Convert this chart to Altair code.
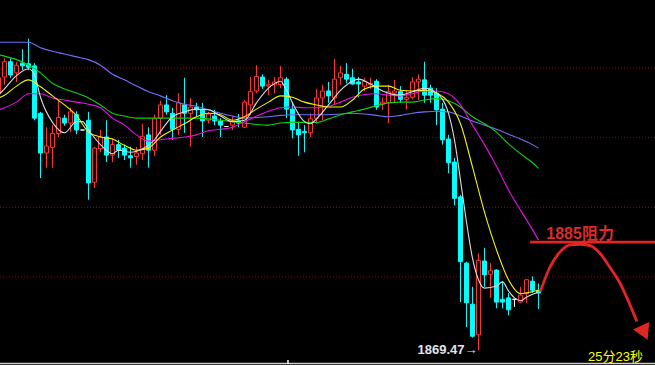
import altair as alt
import pandas as pd

# ---------------- candle data (bar index, OHLC) ----------------
bar_idx = list(range(-1, 90))
open_p = [1906.4, 1908.7, 1910.9, 1909.3, 1910.7, 1910.6, 1910.3, 1903.5, 1897.8, 1898.6,
          1900.6, 1902.8, 1902.1, 1903.3, 1901.1, 1902.5, 1893.6, 1898.4, 1900.1, 1897.5,
          1899.0, 1898.5, 1897.4, 1897.3, 1897.7, 1900.4, 1898.2, 1902.8, 1904.7, 1903.5,
          1901.2, 1904.7, 1903.5, 1904.4, 1904.0, 1902.5, 1903.1, 1902.4, 1901.6, 1901.8,
          1902.4, 1901.5, 1904.7, 1906.7, 1908.7, 1907.4, 1907.6, 1907.6, 1908.4, 1904.1,
          1901.2, 1900.9, 1900.7, 1902.8, 1905.7, 1906.7, 1905.7, 1908.6, 1909.1, 1908.6,
          1908.0, 1907.4, 1907.6, 1908.1, 1904.8, 1905.0, 1906.4, 1906.6, 1905.5, 1905.8,
          1908.0, 1908.3, 1907.1, 1906.4, 1904.1, 1899.8, 1896.5, 1891.5, 1882.0, 1876.1,
          1871.7, 1882.3, 1880.4, 1881.0, 1876.8, 1877.0, 1876.8, 1876.4, 1877.6, 1879.4,
          1878.1]
high_p = [1909.0, 1911.4, 1911.4, 1910.9, 1912.7, 1914.2, 1910.7, 1903.7, 1901.5, 1901.8,
          1905.3, 1903.3, 1904.3, 1903.8, 1901.1, 1903.7, 1898.7, 1901.1, 1902.5, 1899.9,
          1899.7, 1899.0, 1898.7, 1898.7, 1902.0, 1901.5, 1903.3, 1905.3, 1906.1, 1904.3,
          1906.4, 1908.6, 1905.7, 1905.0, 1905.0, 1903.7, 1904.0, 1902.8, 1901.6, 1903.1,
          1903.4, 1905.4, 1908.7, 1910.4, 1909.1, 1908.3, 1908.7, 1910.3, 1908.7, 1905.1,
          1902.3, 1901.8, 1903.5, 1907.0, 1907.6, 1908.0, 1911.3, 1910.3, 1910.7, 1909.9,
          1908.7, 1908.6, 1908.6, 1908.4, 1905.8, 1907.6, 1908.3, 1907.4, 1906.8, 1908.7,
          1909.1, 1910.9, 1907.6, 1907.1, 1905.0, 1900.4, 1897.1, 1891.8, 1882.2, 1878.6,
          1883.4, 1884.2, 1882.0, 1881.1, 1879.4, 1877.7, 1876.8, 1878.6, 1879.7, 1880.1,
          1879.1]
low_p = [1905.7, 1907.6, 1908.6, 1908.0, 1909.7, 1909.7, 1902.5, 1894.2, 1895.7, 1895.7,
         1900.1, 1901.7, 1900.8, 1900.5, 1901.1, 1891.1, 1892.8, 1897.9, 1896.5, 1896.5,
         1897.1, 1896.8, 1895.7, 1896.1, 1896.8, 1895.7, 1897.4, 1900.4, 1903.3, 1899.7,
         1900.4, 1900.7, 1898.7, 1903.1, 1900.1, 1902.0, 1901.8, 1900.1, 1901.6, 1901.1,
         1901.5, 1901.4, 1903.3, 1906.4, 1907.0, 1906.1, 1906.4, 1907.1, 1902.8, 1899.9,
         1897.4, 1897.9, 1900.1, 1902.0, 1902.5, 1905.0, 1904.7, 1907.6, 1907.8, 1907.6,
         1905.8, 1906.7, 1907.0, 1904.0, 1904.0, 1902.1, 1905.0, 1905.0, 1904.1, 1905.5,
         1905.4, 1905.0, 1905.0, 1901.8, 1899.0, 1894.9, 1890.3, 1876.4, 1872.8, 1871.3,
         1869.47, 1878.6, 1877.0, 1875.5, 1875.5, 1874.5, 1875.7, 1876.3, 1876.3, 1877.7,
         1875.4]
close_p = [1908.6, 1910.9, 1909.0, 1910.4, 1910.3, 1910.1, 1902.8, 1897.8, 1898.8, 1900.6,
           1902.9, 1902.1, 1903.7, 1901.1, 1901.1, 1893.5, 1898.5, 1900.1, 1897.5, 1899.0,
           1898.2, 1897.5, 1897.1, 1897.8, 1900.2, 1898.2, 1902.7, 1904.7, 1903.7, 1901.2,
           1905.0, 1903.5, 1904.4, 1904.0, 1902.4, 1903.4, 1902.4, 1901.8, 1901.6, 1902.3,
           1902.1, 1905.1, 1906.6, 1908.8, 1907.4, 1907.6, 1908.0, 1908.6, 1904.1, 1901.1,
           1900.4, 1900.7, 1902.7, 1905.7, 1906.7, 1906.0, 1908.4, 1909.3, 1908.4, 1907.7,
           1907.7, 1908.1, 1907.8, 1904.4, 1905.1, 1906.6, 1906.7, 1905.5, 1905.8, 1908.0,
           1908.4, 1906.1, 1906.1, 1904.0, 1899.7, 1896.4, 1891.3, 1882.2, 1876.3, 1871.5,
           1882.4, 1880.3, 1880.9, 1876.4, 1876.4, 1875.3, 1876.8, 1877.4, 1879.6, 1878.1,
           1877.7]

# ---------------- moving averages ----------------
ma_idx = [-1, 0, 2, 4, 6, 8, 10, 12, 14, 16, 18, 20, 22, 24, 26, 28, 30, 32, 34, 36, 38,
          40, 42, 44, 46, 48, 50, 52, 54, 56, 58, 60, 62, 64, 66, 68, 70, 72, 74, 76, 78,
          80, 82, 84, 86, 88, 89]
ma60 = [1913.7, 1913.7, 1913.7, 1913.7, 1912.9, 1912.4, 1912.0, 1911.6, 1911.2, 1910.4,
        1909.1, 1908.3, 1907.4, 1906.6, 1906.0, 1905.3, 1904.8, 1904.5, 1904.0, 1903.5,
        1903.1, 1902.8, 1902.9, 1903.0, 1903.2, 1903.3, 1903.3, 1903.3, 1903.3, 1903.4,
        1903.5, 1903.4, 1903.2, 1903.0, 1903.2, 1903.5, 1903.7, 1903.8, 1903.7, 1903.1,
        1902.4, 1901.8, 1901.2, 1900.5, 1899.8, 1899.0, 1898.5]
ma30 = [1911.9, 1911.7, 1911.2, 1910.4, 1909.3, 1907.8, 1907.0, 1906.4, 1905.7, 1904.7,
        1903.5, 1903.1, 1902.8, 1902.8, 1902.8, 1902.8, 1902.8, 1902.8, 1902.7, 1902.5,
        1902.3, 1902.1, 1901.9, 1901.8, 1902.1, 1902.2, 1902.2, 1902.2, 1902.7, 1903.3,
        1903.7, 1904.1, 1904.6, 1905.0, 1905.1, 1905.1, 1905.4, 1905.6, 1905.3, 1904.4,
        1903.0, 1902.0, 1900.8, 1899.1, 1897.7, 1896.4, 1895.6]
ma20 = [1904.0, 1904.3, 1905.1, 1906.3, 1906.3, 1905.7, 1905.4, 1905.1, 1904.8, 1904.3,
        1902.8, 1901.8, 1900.4, 1899.5, 1899.7, 1899.9, 1900.1, 1900.4, 1901.0, 1901.2,
        1901.5, 1902.3, 1903.1, 1903.8, 1904.3, 1904.4, 1904.3, 1904.3, 1904.5, 1905.1,
        1905.8, 1906.2, 1906.3, 1906.1, 1906.0, 1906.3, 1906.7, 1906.7, 1906.3, 1904.7,
        1901.8, 1899.0, 1895.9, 1892.5, 1889.6, 1886.8, 1885.3]
ma10 = [1905.7, 1906.1, 1907.4, 1908.3, 1907.3, 1906.0, 1904.7, 1903.2, 1900.8, 1900.1,
        1899.8, 1898.9, 1898.2, 1898.5, 1900.1, 1901.1, 1902.0, 1903.0, 1903.5, 1903.3,
        1902.5, 1903.0, 1904.1, 1905.1, 1906.0, 1905.8, 1905.1, 1904.7, 1904.4, 1904.4,
        1905.4, 1907.0, 1907.4, 1907.4, 1906.8, 1906.7, 1906.8, 1906.4, 1905.1, 1902.0,
        1895.8, 1889.3, 1883.9, 1879.6, 1877.6, 1877.9, 1878.1]
ma5_idx = [-1, 0, 2, 4, 5, 6, 8, 10, 12, 13, 14, 16, 18, 19, 21, 23, 25, 26, 28, 30, 32,
           34, 36, 38, 40, 42, 44, 46, 47, 48, 50, 51, 52, 54, 56, 58, 59, 61, 63, 66, 68,
           70, 72, 74, 75, 76, 77, 78, 79, 80, 82, 83, 84, 85, 86, 87, 89]
ma5 = [1906.1, 1907.0, 1908.9, 1909.9, 1909.0, 1905.8, 1902.2, 1900.7, 1902.3, 1902.3,
       1901.1, 1899.0, 1897.7, 1898.2, 1897.9, 1898.4, 1899.7, 1900.9, 1903.0, 1903.7,
       1904.1, 1904.0, 1903.1, 1902.3, 1902.5, 1905.0, 1907.1, 1908.1, 1906.8, 1905.0,
       1902.3, 1902.0, 1902.7, 1904.7, 1906.8, 1908.1, 1908.4, 1907.7, 1906.7, 1906.1,
       1906.6, 1907.1, 1906.4, 1903.5, 1899.7, 1893.9, 1887.9, 1882.7, 1879.6, 1878.4,
       1878.7, 1879.3, 1878.0, 1877.0, 1876.6, 1877.1, 1877.8]

# ---------------- annotations ----------------
grid_levels = [1880, 1890, 1900, 1910]
resistance_price = 1885
resistance_from = 87.6
resistance_to = 108.5
resistance_label = "1885阻力"
low_label = "1869.47→"
low_bar = 79
low_price = 1869.47
timer_label = "25分23秒"
timer_pos = [106.4, 1868.45]
arc_i = [89.3, 90.9, 92.6, 94.25, 95.9, 97.6, 99.25, 100.9, 102.6, 104.25, 105.4]
arc_p = [1877.9, 1881.4, 1883.6, 1884.6, 1884.7, 1884.5, 1883.4, 1881.4, 1879.1, 1876.0, 1873.6]
arrow_head = [106.65, 1872.0]
axis_tick_bar = 47.25

RED = "#e52424"
XS = alt.Scale(domain=[-0.75, 108.42], nice=False, zero=False)
YS = alt.Scale(domain=[1867.37, 1919.76], nice=False, zero=False)


def X(f):
    return alt.X(f, type="quantitative", scale=XS, axis=None)


def Y(f):
    return alt.Y(f, type="quantitative", scale=YS, axis=None)


candles = pd.DataFrame({"i": bar_idx, "open": open_p, "high": high_p,
                        "low": low_p, "close": close_p})

base = alt.Chart(candles).transform_calculate(
    dir="datum.close > datum.open ? 'up' : (datum.close < datum.open ? 'down' : 'flat')",
    xl="datum.i - 0.3333",
    xr="datum.i + 0.3333",
)

dirs = ["up", "down", "flat"]
stroke_scale = alt.Scale(domain=dirs, range=["#ff3535", "#00ffff", "#ffffff"])
fill_scale = alt.Scale(domain=dirs, range=["#000000", "#00ffff", "#000000"])

grid = alt.Chart(pd.DataFrame({"p": grid_levels})).mark_rule(
    color="#a00000", strokeDash=[1, 2], strokeWidth=1
).encode(y=Y("p"))

wicks = base.mark_rule(strokeWidth=1, clip=True).encode(
    x=X("i"), y=Y("low"), y2="high",
    color=alt.Color("dir:N", scale=stroke_scale, legend=None),
)

bodies = base.mark_rect(strokeWidth=1, clip=True).encode(
    x=X("xl"), x2="xr", y=Y("open"), y2="close",
    fill=alt.Fill("dir:N", scale=fill_scale, legend=None),
    stroke=alt.Stroke("dir:N", scale=stroke_scale, legend=None),
)


def ma_line(idx, vals, color):
    df = pd.DataFrame({"i": idx, "v": vals})
    return alt.Chart(df).mark_line(color=color, strokeWidth=1.1, interpolate="monotone",
                                   clip=True).encode(x=X("i"), y=Y("v"))


lines = [
    ma_line(ma_idx, ma60, "#7070ff"),
    ma_line(ma_idx, ma30, "#10d010"),
    ma_line(ma_idx, ma20, "#e810e8"),
    ma_line(ma_idx, ma10, "#f5f500"),
    ma_line(ma5_idx, ma5, "#dcdcdc"),
]

res_line = alt.Chart(pd.DataFrame({"a": [resistance_from], "b": [resistance_to],
                                   "p": [resistance_price]})).mark_rule(
    color=RED, strokeWidth=2.8).encode(x=X("a"), x2="b", y=Y("p"))

res_text = alt.Chart(pd.DataFrame({"i": [90.3], "p": [resistance_price],
                                   "t": [resistance_label]})).mark_text(
    align="left", baseline="alphabetic", dy=-3, fontSize=16, fontWeight="bold",
    font="Liberation Sans, Noto Sans CJK SC", color="#dc2a2a"
).encode(x=X("i"), y=Y("p"), text="t:N")

arc = alt.Chart(pd.DataFrame({"i": arc_i, "p": arc_p})).mark_line(
    color=RED, strokeWidth=2.8, interpolate="monotone").encode(x=X("i"), y=Y("p"))

head = alt.Chart(pd.DataFrame({"i": [arrow_head[0]], "p": [arrow_head[1]]})).mark_point(
    shape="triangle-down", filled=True, size=320, angle=335, color=RED, opacity=1
).encode(x=X("i"), y=Y("p"))

low_text = alt.Chart(pd.DataFrame({"i": [low_bar], "p": [low_price],
                                   "t": [low_label]})).mark_text(
    align="right", baseline="middle", dx=-1, fontSize=13, fontWeight="bold",
    font="Liberation Sans", color="#e2e2ea"
).encode(x=X("i"), y=Y("p"), text="t:N")

timer_text = alt.Chart(pd.DataFrame({"i": [timer_pos[0]], "p": [timer_pos[1]],
                                     "t": [timer_label]})).mark_text(
    align="right", baseline="middle", fontSize=13,
    font="Liberation Sans, Noto Sans CJK SC", color="#ffff00"
).encode(x=X("i"), y=Y("p"), text="t:N")

bottom_line = alt.Chart(pd.DataFrame({"k": [0]})).mark_rule(
    color="#d0d0d0", strokeWidth=1.5
).encode(x=alt.value(0), x2=alt.value(655), y=alt.value(363.5))

axis_tick = alt.Chart(pd.DataFrame({"i": [axis_tick_bar]})).mark_rule(
    color="#ffffff", strokeWidth=1.5
).encode(x=X("i"), y=alt.value(360), y2=alt.value(364))

chart = alt.layer(
    grid, wicks, bodies, *lines, res_line, res_text, arc, head, low_text, timer_text,
    bottom_line, axis_tick
).properties(
    width=655, height=365, padding=0,
    autosize=alt.AutoSizeParams(type="none"),
    background="#000000",
).configure_view(stroke=None)

chart.save("out.html", embed_options={"renderer": "svg", "actions": False})
